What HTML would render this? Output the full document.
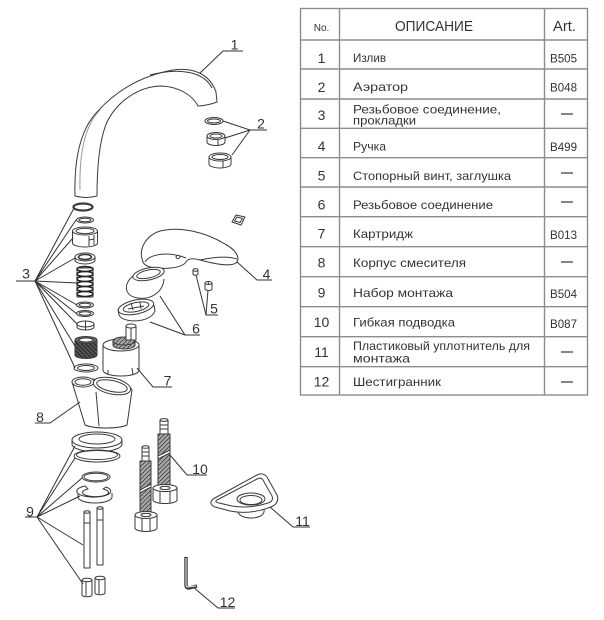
<!DOCTYPE html>
<html><head><meta charset="utf-8"><style>
html,body{margin:0;padding:0;background:#fff;}
svg{display:block;}
text{font-family:"Liberation Sans","DejaVu Sans",sans-serif;}
</style></head><body>
<svg width="604" height="620" viewBox="0 0 604 620" xmlns="http://www.w3.org/2000/svg">
<defs>
<pattern id="hatch" width="3" height="3" patternUnits="userSpaceOnUse" patternTransform="rotate(45)"><rect width="3" height="3" fill="#aaa"/><line x1="0" y1="0" x2="0" y2="3" stroke="#222" stroke-width="1.3"/></pattern>
<pattern id="hatch2" width="3" height="3" patternUnits="userSpaceOnUse" patternTransform="rotate(-45)"><rect width="3" height="3" fill="#555"/><line x1="0" y1="0" x2="0" y2="3" stroke="#111" stroke-width="1.5"/></pattern>
</defs>

<!-- TABLE -->
<g stroke="#8c8c8c" stroke-width="1.4" fill="none">
<rect x="300.5" y="8.5" width="287" height="386.5"/>
<line x1="339.5" y1="8.5" x2="339.5" y2="395"/>
<line x1="544.5" y1="8.5" x2="544.5" y2="395"/>
<line x1="300.5" y1="40" x2="587.5" y2="40"/>
<line x1="300.5" y1="69" x2="587.5" y2="69"/>
<line x1="300.5" y1="99" x2="587.5" y2="99"/>
<line x1="300.5" y1="128.3" x2="587.5" y2="128.3"/>
<line x1="300.5" y1="157.7" x2="587.5" y2="157.7"/>
<line x1="300.5" y1="187" x2="587.5" y2="187"/>
<line x1="300.5" y1="216.7" x2="587.5" y2="216.7"/>
<line x1="300.5" y1="246.7" x2="587.5" y2="246.7"/>
<line x1="300.5" y1="276.7" x2="587.5" y2="276.7"/>
<line x1="300.5" y1="306.7" x2="587.5" y2="306.7"/>
<line x1="300.5" y1="336.7" x2="587.5" y2="336.7"/>
<line x1="300.5" y1="366.7" x2="587.5" y2="366.7"/>
</g>

<g fill="#333">
<text x="321.5" y="31" font-family="Liberation Serif, serif" font-size="10" text-anchor="middle">No.</text>
<text x="395" y="31" font-size="15" textLength="78" lengthAdjust="spacingAndGlyphs">ОПИСАНИЕ</text>
<text x="553" y="31" font-size="15" textLength="23" lengthAdjust="spacingAndGlyphs">Art.</text>
</g>

<g fill="#333" font-size="14" text-anchor="middle">
<text x="321.5" y="63">1</text>
<text x="321.5" y="92">2</text>
<text x="321.5" y="120">3</text>
<text x="321.5" y="151">4</text>
<text x="321.5" y="180.5">5</text>
<text x="321.5" y="209.5">6</text>
<text x="321.5" y="238.5">7</text>
<text x="321.5" y="267.5">8</text>
<text x="321.5" y="297.5">9</text>
<text x="321.5" y="327">10</text>
<text x="321.5" y="357">11</text>
<text x="321.5" y="386.5">12</text>
</g>

<g fill="#333" font-size="12" lengthAdjust="spacingAndGlyphs">
<text x="353" y="62" textLength="33" lengthAdjust="spacingAndGlyphs">Излив</text>
<text x="353" y="91" textLength="55" lengthAdjust="spacingAndGlyphs">Аэратор</text>
<text x="353" y="113.5" textLength="148" lengthAdjust="spacingAndGlyphs">Резьбовое соединение,</text>
<text x="353" y="124.5" textLength="63" lengthAdjust="spacingAndGlyphs">прокладки</text>
<text x="353" y="150.5" textLength="33" lengthAdjust="spacingAndGlyphs">Ручка</text>
<text x="353" y="180" textLength="158" lengthAdjust="spacingAndGlyphs">Стопорный винт, заглушка</text>
<text x="353" y="209" textLength="140" lengthAdjust="spacingAndGlyphs">Резьбовое соединение</text>
<text x="353" y="238" textLength="60" lengthAdjust="spacingAndGlyphs">Картридж</text>
<text x="353" y="267" textLength="113" lengthAdjust="spacingAndGlyphs">Корпус смесителя</text>
<text x="353" y="297" textLength="100" lengthAdjust="spacingAndGlyphs">Набор монтажа</text>
<text x="353" y="326.5" textLength="102" lengthAdjust="spacingAndGlyphs">Гибкая подводка</text>
<text x="353" y="350" textLength="177" lengthAdjust="spacingAndGlyphs">Пластиковый уплотнитель для</text>
<text x="353" y="362.5" textLength="57" lengthAdjust="spacingAndGlyphs">монтажа</text>
<text x="353" y="386" textLength="88" lengthAdjust="spacingAndGlyphs">Шестигранник</text>
</g>

<g fill="#333" font-size="12">
<text x="550" y="62.3" textLength="27" lengthAdjust="spacingAndGlyphs">B505</text>
<text x="550" y="91.5" textLength="27" lengthAdjust="spacingAndGlyphs">B048</text>
<text x="550" y="151" textLength="27" lengthAdjust="spacingAndGlyphs">B499</text>
<text x="550" y="239" textLength="27" lengthAdjust="spacingAndGlyphs">B013</text>
<text x="550" y="298" textLength="27" lengthAdjust="spacingAndGlyphs">B504</text>
<text x="550" y="328" textLength="27" lengthAdjust="spacingAndGlyphs">B087</text>
</g>
<g stroke="#444" stroke-width="1.3">
<line x1="561" y1="114" x2="573" y2="114"/>
<line x1="561" y1="173" x2="573" y2="173"/>
<line x1="561" y1="202" x2="573" y2="202"/>
<line x1="561" y1="262" x2="573" y2="262"/>
<line x1="561" y1="352" x2="573" y2="352"/>
<line x1="561" y1="382" x2="573" y2="382"/>
</g>

<!-- DRAWING -->
<g stroke="#3a3a3a" stroke-width="1" fill="#fff" stroke-linejoin="round">

<!-- 1 spout -->
<path d="M75,196 C74,160 80,130 97,112 C115,92 140,76 173,70 C195,67 210,75 216,92 L217,102 C212,104 203,106 198,106 C193,96 180,87 162,86 C140,86 118,100 107,122 C100,138 97,165 97,196 Q86,199 75,196 Z"/>
<path d="M150,75 C180,67 204,72 212,88" fill="none"/>
<path d="M80,190 C79,150 86,124 100,110" fill="none" stroke="#999"/>

<!-- 2 aerator -->
<ellipse cx="214" cy="121" rx="9" ry="3.5"/><ellipse cx="214" cy="121" rx="6.5" ry="2"/>
<path d="M207,136 L207,142 A9,3.5 0 0 0 225,142 L225,136"/>
<ellipse cx="216" cy="136" rx="9" ry="3.5"/><ellipse cx="216" cy="136" rx="6" ry="2"/>
<line x1="218" y1="140" x2="218" y2="145.5"/>
<path d="M209,157 L209,164 A11,4 0 0 0 231,164 L231,157"/>
<ellipse cx="220" cy="157" rx="11" ry="4"/><ellipse cx="220" cy="157" rx="8" ry="2.5"/>
<line x1="223" y1="161" x2="223" y2="168"/>

<!-- 3 stack -->
<ellipse cx="83" cy="207" rx="9.5" ry="3.5" stroke-width="2.2"/>
<ellipse cx="85" cy="220" rx="8.5" ry="3"/><ellipse cx="85" cy="220" rx="6" ry="1.8"/>
<path d="M72.5,231 L72.5,243 A12.5,4 0 0 0 97.5,243 L97.5,231"/>
<ellipse cx="85" cy="231" rx="12.5" ry="4"/><ellipse cx="85" cy="231" rx="9" ry="2.6"/>
<path d="M89,236 L89,246 M94,235 L94,245 M89,240 L94,239" fill="none"/>
<path d="M75,257 L75,260 A10,4 0 0 0 95,260 L95,257"/>
<ellipse cx="85" cy="257" rx="10" ry="4"/><ellipse cx="85" cy="257" rx="6.5" ry="2.5" stroke-width="1.6"/>
<rect x="77" y="268" width="16" height="29" fill="#fff"/>
<g fill="none" stroke="#222" stroke-width="1.5">
<ellipse cx="85" cy="269" rx="8" ry="2.5"/>
<ellipse cx="85" cy="274" rx="8" ry="2.5"/>
<ellipse cx="85" cy="279" rx="8" ry="2.5"/>
<ellipse cx="85" cy="284" rx="8" ry="2.5"/>
<ellipse cx="85" cy="289" rx="8" ry="2.5"/>
<ellipse cx="85" cy="294" rx="8" ry="2.5"/>
</g>
<ellipse cx="85" cy="305" rx="8.5" ry="3"/><ellipse cx="85" cy="305" rx="6" ry="1.8"/>
<ellipse cx="85" cy="313.5" rx="8.5" ry="3"/><ellipse cx="85" cy="313.5" rx="6" ry="1.8"/>
<path d="M77,324 L77,327 A8.5,3 0 0 0 94,327 L94,324"/>
<ellipse cx="85.5" cy="324" rx="8.5" ry="3"/><line x1="85.5" y1="321" x2="85.5" y2="330"/>
<path d="M75,340 L75,355 A11,3.5 0 0 0 97,355 L97,340" fill="url(#hatch2)"/>
<ellipse cx="86" cy="340" rx="11" ry="3.5" fill="#666"/><ellipse cx="86" cy="340" rx="7" ry="2" fill="#fff"/>
<ellipse cx="86" cy="368" rx="12" ry="4"/><ellipse cx="86" cy="368" rx="8.5" ry="2.5"/>

<!-- 4 handle -->
<path d="M143,262 C138,250 145,236 160,231 C180,226 205,232 225,244 C236,250 241,258 236,263 C230,267 215,264 200,260 C193,258 188,258 186,262 C182,268 165,270 150,267 C146,266 144,264 143,262 Z"/>
<path d="M145,262 C150,254 168,251 186,258" fill="none"/>
<path d="M200,260 C214,257 228,256 237,259" fill="none"/>
<ellipse cx="178" cy="257" rx="2" ry="1.5"/>
<!-- small square nut -->
<path d="M232,222 L236,215 L245,217 L241,225 Z"/><path d="M234.5,221 L237,217 L242.5,218.5 L240,222.5 Z"/>

<!-- 5 screws -->
<path d="M193,270 L193,274 A2.5,1.2 0 0 0 198,274 L198,270"/><ellipse cx="195.5" cy="270" rx="2.5" ry="1.2"/>
<path d="M205,283 L205,289 A3.5,1.5 0 0 0 212,289 L212,283"/><ellipse cx="208.5" cy="283" rx="3.5" ry="1.5"/>
<line x1="208" y1="282" x2="209" y2="285"/>

<!-- 6 -->
<path d="M133,276 C123,284 124,296 138,298 C151,300 163,292 164,279"/>
<ellipse cx="148.5" cy="274" rx="16" ry="6" transform="rotate(-12 148.5 274)"/>
<ellipse cx="148.5" cy="274" rx="12" ry="4" transform="rotate(-12 148.5 274)"/>
<path d="M118,309 L119,315 C122,323 150,324 155,311 L154,305"/>
<ellipse cx="136" cy="307" rx="18" ry="7" transform="rotate(-12 136 307)"/>
<ellipse cx="136" cy="307" rx="13" ry="4.5" transform="rotate(-12 136 307)"/>
<path d="M131,303 L133,310 M140,302 L141,309 M128,309 L144,306" fill="none"/>

<!-- 7 cartridge -->
<path d="M103,345 L103,370 C103,378 139,378 139,370 L139,345"/>
<ellipse cx="121" cy="345" rx="18" ry="6"/>
<path d="M113,341 L113,345 A11,4 0 0 0 135,345 L135,341" fill="url(#hatch)"/>
<ellipse cx="124" cy="341" rx="11" ry="4" fill="url(#hatch)"/>
<rect x="126" y="326" width="10" height="14"/>
<ellipse cx="131" cy="326" rx="5" ry="2"/>
<line x1="131" y1="328" x2="131" y2="340"/>
<line x1="108" y1="370" x2="108" y2="375" /><line x1="132" y1="368" x2="133" y2="375"/>

<!-- 8 body -->
<path d="M72,382 L85,425 C95,429 118,429 127,425 L132,390 C128,380 100,376 72,382 Z"/>
<ellipse cx="83" cy="382" rx="11" ry="5"/><ellipse cx="83" cy="382" rx="8" ry="3.3"/>
<ellipse cx="112" cy="386" rx="19" ry="8" transform="rotate(12 112 386)"/>
<ellipse cx="112" cy="386" rx="15.5" ry="5.5" transform="rotate(12 112 386)"/>
<line x1="96" y1="392" x2="99" y2="426"/>

<!-- 9 -->
<path d="M72,440 L72,444 A25,8 0 0 0 122,444 L122,440"/>
<ellipse cx="97" cy="440" rx="25" ry="8"/><ellipse cx="97" cy="439" rx="18" ry="5"/>
<ellipse cx="97" cy="456" rx="23" ry="6"/><ellipse cx="97" cy="455" rx="20.5" ry="4.5"/>
<ellipse cx="96" cy="477" rx="14" ry="5"/><ellipse cx="96" cy="477" rx="12" ry="3.8"/>
<path d="M106,487 A17,6 0 1 1 85,486 L88,489 A13,4.2 0 1 0 103,489 Z"/>
<path d="M78,494 L78,497 A17,6 0 0 0 112,497 L112,493" fill="none"/>
<rect x="84" y="512" width="6" height="56"/><ellipse cx="87" cy="512" rx="3" ry="1.2"/>
<rect x="97" y="508" width="6" height="57"/><ellipse cx="100" cy="508" rx="3" ry="1.2"/>
<line x1="97" y1="520" x2="103" y2="520"/><line x1="84" y1="523" x2="90" y2="523"/>
<path d="M82,580 L82,595 A5,1.8 0 0 0 92,595 L92,580"/><ellipse cx="87" cy="580" rx="5" ry="1.8"/><line x1="86" y1="582" x2="86" y2="596"/>
<path d="M95,578 L95,593 A5,1.8 0 0 0 105,593 L105,578"/><ellipse cx="100" cy="578" rx="5" ry="1.8"/><line x1="99" y1="580" x2="99" y2="594"/>

<!-- 10 hoses -->
<rect x="142" y="447" width="7" height="14"/><ellipse cx="145.5" cy="447" rx="3.5" ry="1.3"/>
<line x1="142" y1="452" x2="149" y2="452"/><line x1="142" y1="456" x2="149" y2="456"/>
<rect x="140" y="461" width="11" height="52" fill="url(#hatch)"/>
<path d="M140,490 L151,484 L151,487 L140,493 Z" fill="#fff"/>
<path d="M135,515 L135,528 A11,3.5 0 0 0 157,528 L157,515"/>
<ellipse cx="146" cy="515" rx="11" ry="3.5"/><ellipse cx="146" cy="515" rx="5" ry="1.6"/>
<line x1="142" y1="518" x2="142" y2="531"/><line x1="150" y1="518" x2="150" y2="531"/>

<rect x="160" y="420" width="8" height="14"/><ellipse cx="164" cy="420" rx="4" ry="1.4"/>
<line x1="160" y1="425" x2="168" y2="425"/><line x1="160" y1="429" x2="168" y2="429"/>
<rect x="158" y="434" width="12" height="53" fill="url(#hatch)"/>
<path d="M158,456 L170,450 L170,453 L158,459 Z" fill="#fff"/>
<path d="M153,488 L153,500 A12,3.5 0 0 0 177,500 L177,488"/>
<ellipse cx="165" cy="488" rx="12" ry="3.5"/><ellipse cx="165" cy="488" rx="5" ry="1.6"/>
<line x1="160" y1="491" x2="160" y2="503"/><line x1="170" y1="491" x2="170" y2="503"/>

<!-- 11 triangle gasket -->
<path d="M237,500 L238,512 C240,520 262,520 264,512 L265,500"/>
<path d="M213,499 L257,475 Q263,472 267,477 L277,495 Q280,503 271,507 Q250,515 230,511 L215,507 Q208,504 213,499 Z"/>
<path d="M217,500 L257,479 Q261,477 263,480 L272,496 Q274,501 268,503 Q250,509 232,506 L219,503 Q214,502 217,500 Z"/>
<ellipse cx="251" cy="499" rx="14" ry="6"/>
<ellipse cx="251" cy="500" rx="11" ry="4.5"/>

<!-- 12 hex key -->
<path d="M186,557 L186,585 Q186,588 189,588 L197,586" fill="none" stroke="#333" stroke-width="3.4"/>
<path d="M186,558 L186,585 Q186,587 188,587 L196,586" fill="none" stroke="#fff" stroke-width="1"/>
</g>

<!-- LEADERS -->
<g stroke="#333" stroke-width="1" fill="none">
<polyline points="200,73 223,51 243,51"/>
<polyline points="267,130 250,130 223,121"/><line x1="250" y1="130" x2="225" y2="138"/><line x1="250" y1="130" x2="232" y2="155"/>
<line x1="16" y1="281" x2="35" y2="281"/>
<line x1="35" y1="281" x2="74" y2="208"/>
<line x1="35" y1="281" x2="76" y2="220"/>
<line x1="35" y1="281" x2="73" y2="238"/>
<line x1="35" y1="281" x2="75" y2="258"/>
<line x1="35" y1="281" x2="77" y2="283"/>
<line x1="35" y1="281" x2="77" y2="305"/>
<line x1="35" y1="281" x2="77" y2="314"/>
<line x1="35" y1="281" x2="77" y2="324"/>
<line x1="35" y1="281" x2="75" y2="346"/>
<line x1="35" y1="281" x2="75" y2="368"/>
<polyline points="237,262 257,280 272,280"/>
<polyline points="196,275 206,315 218,315"/><line x1="206" y1="315" x2="208" y2="290"/>
<polyline points="160,296 185,335 200,335"/><line x1="185" y1="335" x2="150" y2="322"/>
<polyline points="137,368 153,387 172,387"/>
<polyline points="80,402 50,423 35,423"/>
<line x1="25" y1="517" x2="37" y2="517"/>
<line x1="37" y1="517" x2="75" y2="446"/>
<line x1="37" y1="517" x2="75" y2="458"/>
<line x1="37" y1="517" x2="82" y2="478"/>
<line x1="37" y1="517" x2="80" y2="496"/>
<line x1="37" y1="517" x2="83" y2="545"/>
<line x1="37" y1="517" x2="83" y2="584"/>
<polyline points="170,455 187,475 207,475"/>
<polyline points="270,507 293,527 310,527"/>
<polyline points="193,587 218,608 235,608"/>
</g>

<g fill="#333" font-size="14" text-anchor="middle">
<text x="234.5" y="49.5">1</text>
<text x="261" y="128.5">2</text>
<text x="26" y="278.5">3</text>
<text x="266.5" y="279">4</text>
<text x="214" y="313.5">5</text>
<text x="196" y="333.5">6</text>
<text x="167.5" y="385.5">7</text>
<text x="40" y="422">8</text>
<text x="30" y="516.5">9</text>
<text x="200" y="474">10</text>
<text x="302.5" y="526">11</text>
<text x="227.5" y="607">12</text>
</g>
</svg>
</body></html>
